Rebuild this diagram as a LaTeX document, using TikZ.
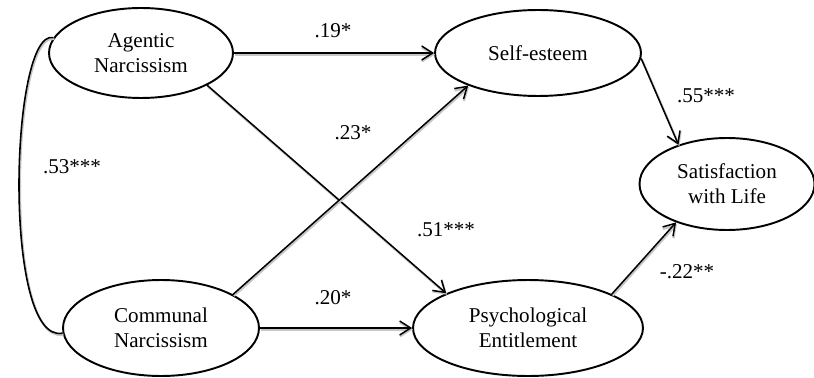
\documentclass[tikz,border=0pt]{standalone}
\usepackage{fontspec}
\setmainfont{Liberation Serif}
\usetikzlibrary{arrows.meta,shapes.geometric}

\begin{document}
\begin{tikzpicture}[
  x=0.02cm, y=-0.02cm,
  var/.style={draw, ellipse, line width=1.1pt, inner sep=0pt, align=center, font=\fontsize{12}{14.2}\selectfont},
  coef/.style={inner sep=0pt, font=\fontsize{12}{14}\selectfont},
  shade/.style={preaction={draw=gray!45, line width=1.3pt, transform canvas={shift={(0.5pt,-0.8pt)}}}},
  link/.style={->, line width=0.85pt, shade},
  corr/.style={line width=0.9pt, shade},
  >={Straight Barb[length=2.2mm, width=2.8mm]}
]
\useasboundingbox (0,0) rectangle (814,378);
% latent variables
\node[var, minimum width=3.68cm, minimum height=1.8cm] (ag) at (141,53) {Agentic\\Narcissism};
\node[var, minimum width=3.92cm, minimum height=1.92cm] (cn) at (161,328) {Communal\\Narcissism};
\node[var, minimum width=4.12cm, minimum height=1.72cm] (se) at (538,53) {Self-esteem};
\node[var, minimum width=4.6cm, minimum height=1.92cm] (pe) at (528,328) {Psychological\\Entitlement};
\node[var, minimum width=3.5cm, minimum height=1.84cm] (sl) at (727,184) {Satisfaction\\with Life};
% paths
\foreach \a/\b in {ag/se, ag.-26/pe.157, cn.25/se.-155, cn/pe, se.-3/sl.141, pe.22/sl.-143}
  \draw[link] (\a) -- (\b);
\draw[corr] (ag.170) .. controls (10,28) and (2,345) .. (cn.183);
% coefficients
\node[coef] (c1) at (333,31) {.19*};
\node[coef] (c2) at (353,133) {.23*};
\node[coef] (c3) at (72,167) {.53***};
\node[coef] (c4) at (333,298) {.20*};
\node[coef] (c5) at (446,230) {.51***};
\node[coef] (c6) at (706,96) {.55***};
\node[coef] (c7) at (687,272) {-.22**};
\end{tikzpicture}
\end{document}
